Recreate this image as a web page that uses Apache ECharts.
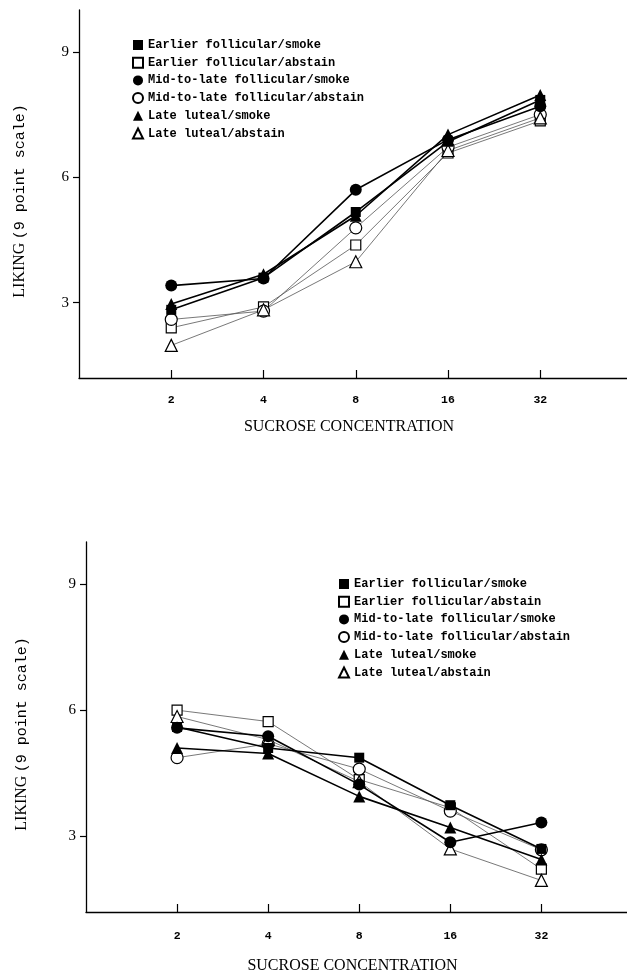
<!DOCTYPE html>
<html>
<head>
<meta charset="utf-8">
<script src="https://cdn.jsdelivr.net/npm/echarts@6/dist/echarts.min.js"></script>
<style>
html,body{margin:0;padding:0;background:#fff;}
#chart{width:627px;height:975px;}
</style>
</head>
<body>
<div id="chart"></div>
<script>
// ---- data ----
const categories = ['2', '4', '8', '16', '32'];
const yTicks = [3, 6, 9];
const seriesNames = [
  'Earlier follicular/smoke',
  'Earlier follicular/abstain',
  'Mid-to-late follicular/smoke',
  'Mid-to-late follicular/abstain',
  'Late luteal/smoke',
  'Late luteal/abstain'
];
// top panel
const topEFSmoke   = [2.83, 3.60, 5.17, 6.85, 7.85];
const topEFAbstain = [2.40, 2.90, 4.38, 6.58, 7.35];
const topMLSmoke   = [3.41, 3.58, 5.70, 6.90, 7.70];
const topMLAbstain = [2.60, 2.80, 4.79, 6.72, 7.50];
const topLLSmoke   = [2.97, 3.68, 5.08, 7.02, 7.97];
const topLLAbstain = [1.98, 2.83, 3.98, 6.64, 7.42];
// bottom panel
const botEFSmoke   = [5.60, 5.10, 4.87, 3.74, 2.70];
const botEFAbstain = [6.00, 5.73, 4.35, 3.68, 2.22];
const botMLSmoke   = [5.58, 5.38, 4.23, 2.86, 3.33];
const botMLAbstain = [4.87, 5.20, 4.60, 3.60, 2.68];
const botLLSmoke   = [5.10, 4.97, 3.95, 3.21, 2.45];
const botLLAbstain = [5.85, 5.30, 4.30, 2.70, 1.95];

const panels = [
  [topEFSmoke, topEFAbstain, topMLSmoke, topMLAbstain, topLLSmoke, topLLAbstain],
  [botEFSmoke, botEFAbstain, botMLSmoke, botMLAbstain, botLLSmoke, botLLAbstain]
];

// ---- styles ----
const symbols = ['rect', 'rect', 'circle', 'circle', 'triangle', 'triangle'];
const symSizes = [10, 10, 12, 12, 12, 12];
const filled = [true, false, true, false, true, false];

const grids = [
  {left: 79, right: 0, top: 10, height: 368},
  {left: 86, right: 0, top: 542, height: 371}
];
const xNameGap = [41, 46];
const xLabelMargin = [16, 18];
const yNameGap = [51, 56];

const series = [];
panels.forEach((vals, g) => {
  vals.forEach((arr, s) => {
    series.push({
      name: seriesNames[s],
      type: 'line',
      xAxisIndex: g,
      yAxisIndex: g,
      data: arr.map((v, i) => [i + 1, v]),
      symbol: symbols[s],
      symbolSize: symSizes[s],
      z: filled[s] ? 3 : 2,
      itemStyle: filled[s]
        ? {color: '#000', borderColor: '#000', borderWidth: 0}
        : {color: '#fff', borderColor: '#000', borderWidth: 1.2},
      lineStyle: filled[s]
        ? {color: '#000', width: 1.6}
        : {color: '#555', width: 0.8},
      emphasis: {disabled: true},
      animation: false
    });
  });
});

const legendData = seriesNames.map((n, i) => ({name: n, icon: symbols[i]}));
const legendCommon = {
  orient: 'vertical',
  padding: 0,
  itemWidth: 10,
  itemHeight: 10,
  itemGap: 5.7,
  itemTextGap: 9,
  data: legendData,
  selectedMode: false,
  textStyle: {fontFamily: 'Liberation Mono', fontWeight: 'bold', fontSize: 12, lineHeight: 12, color: '#000'}
};

const option = {
  backgroundColor: '#fff',
  animation: false,
  grid: grids,
  legend: [
    Object.assign({}, legendCommon, {left: 132, top: 39}),
    Object.assign({}, legendCommon, {left: 338, top: 578})
  ],
  xAxis: grids.map((gr, g) => ({
    type: 'value',
    gridIndex: g,
    min: 0,
    max: 5.94,
    name: 'SUCROSE CONCENTRATION',
    nameLocation: 'middle',
    nameGap: xNameGap[g],
    nameTextStyle: {fontFamily: 'Liberation Serif', fontSize: 16, color: '#000', padding: [0, 8, 0, 0]},
    axisLine: {show: true, lineStyle: {color: '#000', width: 1.3}},
    axisTick: {show: true, inside: true, length: 8, customValues: categories.map((c, i) => i + 1), lineStyle: {color: '#000', width: 1.2}},
    axisLabel: {
      customValues: categories.map((c, i) => i + 1),
      formatter: v => categories[Math.round(v) - 1] || '',
      margin: xLabelMargin[g],
      fontFamily: 'Liberation Mono', fontWeight: 'bold', fontSize: 11.5, color: '#000'
    },
    splitLine: {show: false}
  })),
  yAxis: grids.map((gr, g) => ({
    type: 'value',
    gridIndex: g,
    min: 1.2,
    max: 10,
    name: '{a|LIKING} {b|(9 point scale)}',
    nameLocation: 'middle',
    nameGap: yNameGap[g],
    nameTextStyle: {
      color: '#000',
      padding: [0, 14, 0, 0],
      rich: {
        a: {fontFamily: 'Liberation Serif', fontSize: 16, color: '#000'},
        b: {fontFamily: 'Liberation Mono', fontSize: 15, color: '#000'}
      }
    },
    axisLine: {show: true, lineStyle: {color: '#000', width: 1.3}},
    axisTick: {show: true, inside: false, length: 6, customValues: yTicks, lineStyle: {color: '#000', width: 1.2}},
    axisLabel: {
      customValues: yTicks,
      margin: 10,
      fontFamily: 'Liberation Serif', fontSize: 15, color: '#000'
    },
    splitLine: {show: false}
  })),
  series: series
};

const chart = echarts.init(document.getElementById('chart'), null, {renderer: 'canvas'});
chart.setOption(option);
</script>
</body>
</html>
